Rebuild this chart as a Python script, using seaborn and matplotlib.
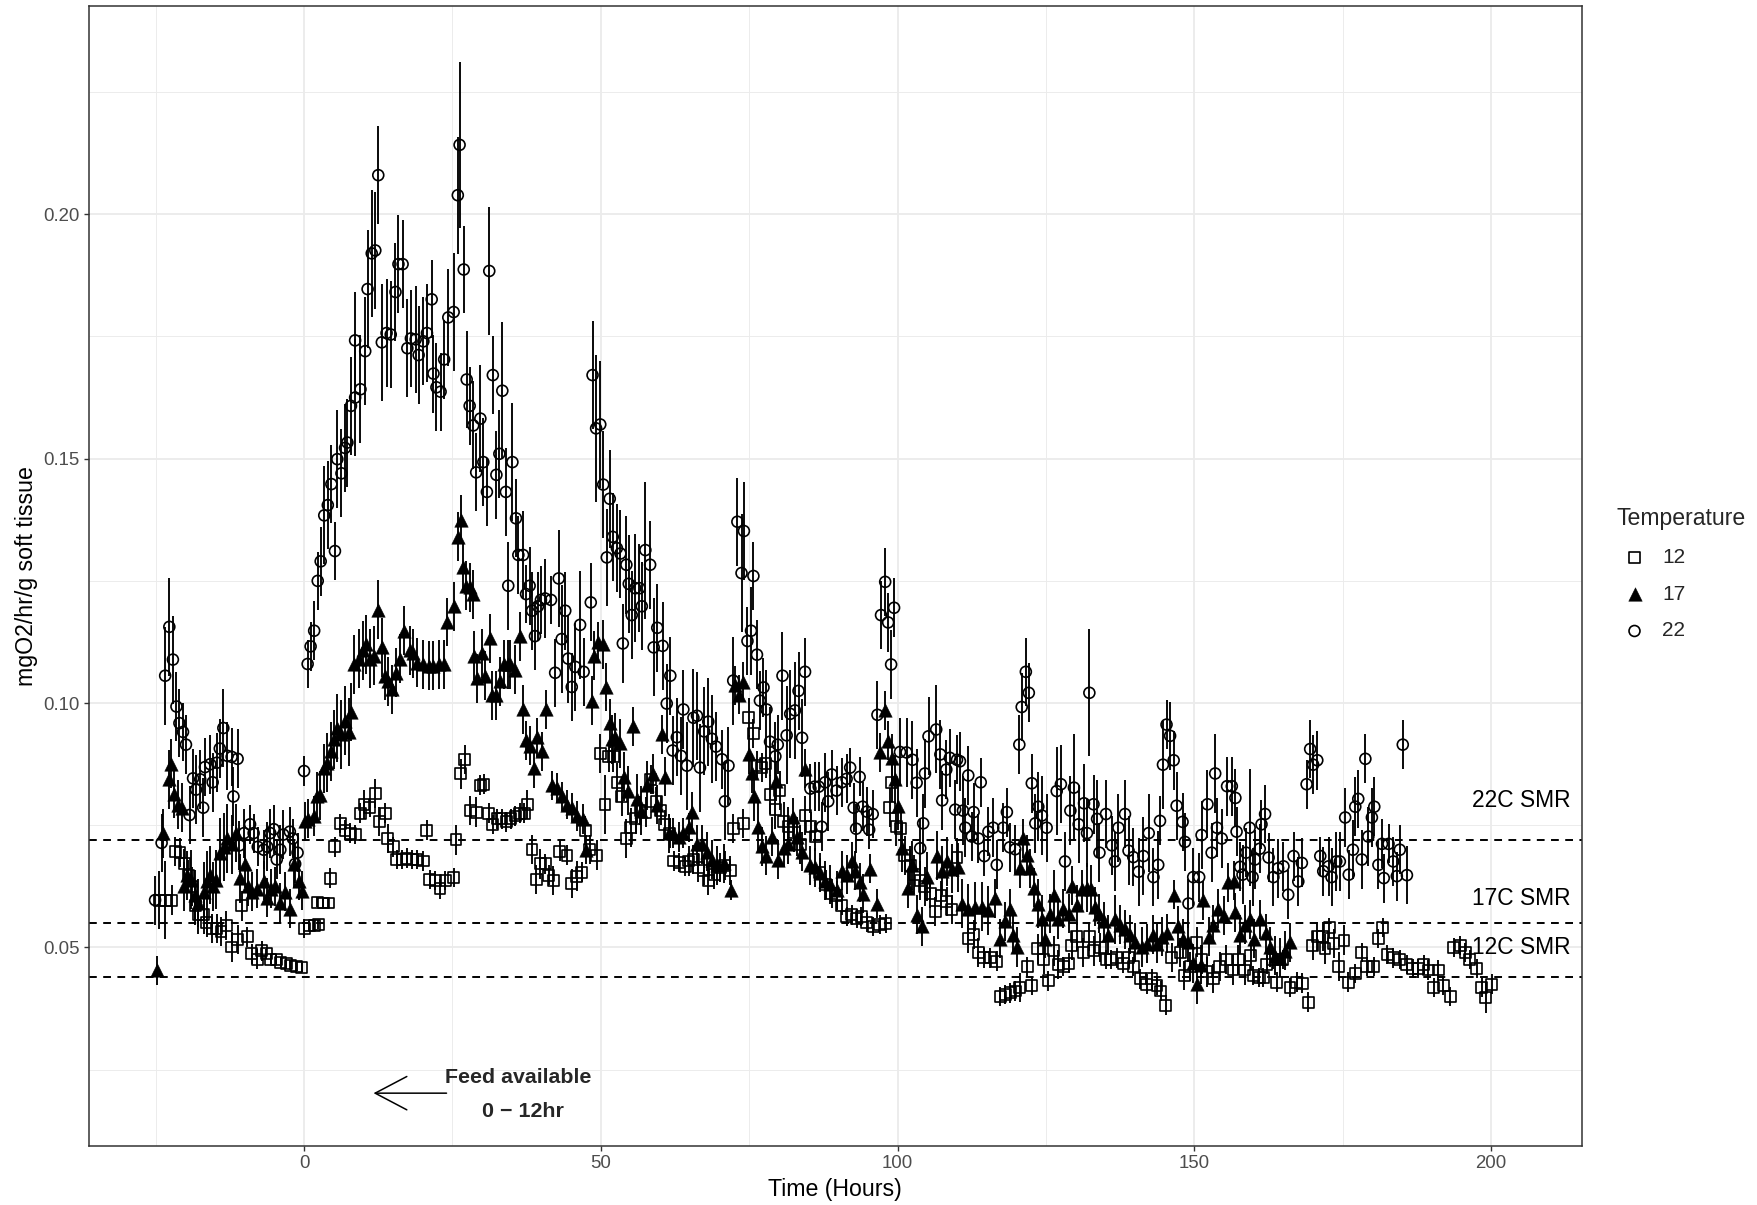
import matplotlib
matplotlib.use("Agg")
import matplotlib.pyplot as plt
import numpy as np
import pandas as pd
import seaborn as sns
from matplotlib.ticker import FixedLocator

# ---------------- data ----------------
# 12 C  (open squares)
hours_12 = [-24.4,-23.4,-22.3,-21.7,-20.9,-20.2,-19.5,-18.9,-18.3,-17.8,
            -16.9,-16.4,-15.5,-14.7,-14.0,-13.1,-12.2,-11.2,-10.5,-9.6,
            -8.8,-7.9,-7.1,-6.4,-5.6,-4.7,-3.9,-3.0,-2.3,-1.2,
            -0.4,0.0,0.9,1.7,2.4,2.2,3.2,4.1,4.4,5.2,
            6.1,6.9,7.8,8.6,9.5,10.1,11.1,12.0,12.7,13.7,
            14.1,15.0,15.6,16.5,17.3,18.2,19.0,20.1,20.7,21.2,
            22.1,22.9,23.8,25.2,25.6,26.4,27.1,28.0,29.0,29.7,
            30.3,31.1,31.8,32.5,33.3,34.1,34.8,35.6,36.3,37.1,
            37.6,38.4,39.1,39.8,40.6,41.2,42.0,43.1,44.3,45.1,
            45.9,46.8,47.4,48.1,49.3,49.9,50.7,51.3,52.1,52.8,
            53.5,54.3,55.0,55.9,56.6,57.6,58.4,59.3,60.1,60.8,
            61.6,62.3,63.2,64.2,64.8,65.6,66.4,67.3,68.1,69.1,
            70.1,70.9,71.8,72.3,74.0,74.9,75.7,76.3,77.1,77.8,
            78.5,79.4,80.1,80.8,81.6,82.6,83.6,84.4,85.4,86.1,
            86.9,87.9,88.9,89.7,90.6,91.4,92.3,93.1,93.9,94.8,
            95.9,97.0,98.0,98.7,99.0,99.8,100.5,101.2,102.1,102.8,
            103.8,104.6,105.5,106.3,107.3,108.3,109.1,110.0,111.9,112.8,
            113.6,114.5,115.6,116.7,117.3,118.1,119.0,119.8,120.6,121.8,
            122.6,123.6,124.6,125.4,126.3,127.1,127.9,128.8,129.3,130.2,
            131.3,132.3,133.0,134.1,135.1,135.9,136.9,138.0,138.9,139.7,
            140.9,142.0,142.8,143.7,144.3,145.2,146.2,147.6,148.3,149.3,
            150.4,151.2,152.1,153.2,154.3,155.4,156.5,157.4,158.5,159.5,
            159.9,160.9,161.6,162.2,163.2,163.9,164.9,166.1,167.2,168.2,
            169.2,169.9,170.7,171.6,172.0,172.7,173.5,174.3,175.2,175.9,
            177.1,178.2,179.0,180.2,181.0,181.7,182.5,183.5,184.6,185.8,
            186.8,187.7,188.6,189.4,190.3,191.1,191.9,193.1,193.7,194.8,
            195.6,196.4,197.6,198.4,199.1,200.1]
rate_12 = [0.0597,0.0597,0.0597,0.0697,0.0694,0.0671,0.0648,0.0625,0.0585,0.0568,
           0.0568,0.0551,0.0539,0.0539,0.0533,0.0545,0.0501,0.0516,0.0585,0.0522,
           0.0487,0.0476,0.0493,0.0487,0.0476,0.0476,0.0470,0.0467,0.0464,0.0462,
           0.0459,0.0539,0.0545,0.0545,0.0547,0.0593,0.0591,0.0591,0.0642,0.0706,
           0.0754,0.0740,0.0734,0.0731,0.0775,0.0792,0.0786,0.0815,0.0758,0.0775,
           0.0723,0.0706,0.0680,0.0680,0.0683,0.0680,0.0680,0.0677,0.0740,0.0639,
           0.0637,0.0620,0.0637,0.0643,0.0720,0.0855,0.0884,0.0780,0.0777,0.0832,
           0.0834,0.0775,0.0752,0.0763,0.0763,0.0757,0.0763,0.0769,0.0775,0.0775,
           0.0792,0.0700,0.0639,0.0671,0.0671,0.0648,0.0637,0.0697,0.0689,0.0631,
           0.0646,0.0654,0.0740,0.0700,0.0689,0.0896,0.0792,0.0890,0.0890,0.0838,
           0.0809,0.0723,0.0746,0.0763,0.0780,0.0777,0.0844,0.0798,0.0780,0.0752,
           0.0734,0.0677,0.0674,0.0666,0.0677,0.0680,0.0664,0.0657,0.0637,0.0649,
           0.0664,0.0668,0.0658,0.0743,0.0754,0.0970,0.0938,0.0872,0.0868,0.0876,
           0.0813,0.0782,0.0821,0.0758,0.0747,0.0735,0.0711,0.0770,0.0747,0.0727,
           0.0653,0.0629,0.0610,0.0606,0.0586,0.0563,0.0567,0.0559,0.0563,0.0551,
           0.0543,0.0547,0.0549,0.0786,0.0837,0.0747,0.0743,0.0688,0.0668,0.0649,
           0.0637,0.0625,0.0610,0.0574,0.0606,0.0594,0.0578,0.0684,0.0518,0.0526,
           0.0490,0.0479,0.0479,0.0472,0.0400,0.0404,0.0407,0.0411,0.0418,0.0461,
           0.0422,0.0497,0.0475,0.0432,0.0493,0.0465,0.0461,0.0468,0.0504,0.0522,
           0.0490,0.0522,0.0493,0.0500,0.0475,0.0475,0.0479,0.0468,0.0479,0.0461,
           0.0436,0.0425,0.0436,0.0422,0.0411,0.0382,0.0479,0.0490,0.0443,0.0461,
           0.0511,0.0475,0.0450,0.0436,0.0461,0.0475,0.0454,0.0475,0.0454,0.0483,
           0.0443,0.0439,0.0439,0.0465,0.0475,0.0429,0.0475,0.0418,0.0429,0.0427,
           0.0388,0.0504,0.0522,0.0522,0.0497,0.0540,0.0508,0.0461,0.0515,0.0429,
           0.0447,0.0490,0.0461,0.0461,0.0518,0.0541,0.0486,0.0479,0.0475,0.0465,
           0.0457,0.0457,0.0465,0.0454,0.0418,0.0454,0.0422,0.0400,0.0500,0.0504,
           0.0490,0.0475,0.0457,0.0418,0.0397,0.0425]
# standard error, in units of 0.001 mgO2/hr/g
err_12 = [6,8,3,3,3,3,3,4,4,4,
          4,3,3,3,3,3,3,3,3,2,
          2,2,2,1,1,1,1,1,1,1,
          1,2,1,1,1,1,1,1,2,2,
          2,2,2,2,2,3,2,3,3,2,
          3,2,2,2,2,2,2,2,2,2,
          2,2,2,2,3,3,3,3,3,2,
          2,2,2,2,2,2,2,2,2,2,
          3,3,3,3,2,2,3,2,2,3,
          3,2,3,3,3,4,6,3,3,4,
          4,4,4,3,3,3,3,3,3,3,
          3,2,2,2,3,3,3,3,3,3,
          3,3,3,3,3,4,3,3,3,3,
          4,4,4,4,4,4,4,4,3,3,
          3,3,3,3,2,2,2,2,2,2,
          2,2,2,4,4,4,4,4,4,4,
          4,4,3,3,3,3,3,4,3,3,
          3,2,2,2,2,2,2,2,3,2,
          2,3,3,2,3,3,2,2,3,3,
          3,3,3,3,2,2,2,2,2,2,
          2,2,2,2,2,2,3,3,3,3,
          3,3,3,3,3,3,3,3,3,3,
          2,2,2,2,2,2,2,2,2,2,
          2,3,3,3,3,2,3,3,3,2,
          2,2,2,2,2,2,2,2,2,2,
          2,2,2,2,2,2,2,2,2,2,
          2,2,2,2,3,2]

# 17 C  (filled triangles)
hours_17 = [-24.8,-23.7,-22.8,-22.4,-21.9,-21.3,-20.6,-20.3,-19.7,-19.1,
            -18.3,-17.8,-16.9,-16.3,-15.9,-15.3,-14.8,-14.1,-13.5,-12.9,
            -12.2,-11.5,-10.8,-10.0,-9.5,-8.8,-8.0,-6.8,-6.3,-5.6,
            -4.9,-4.0,-3.2,-2.3,-1.7,-0.9,-0.4,0.2,0.7,1.6,
            2.2,2.7,3.3,3.8,4.5,5.0,5.5,6.2,6.9,7.5,
            7.9,8.4,9.2,10.0,10.5,11.1,11.8,12.5,13.1,13.7,
            14.2,14.8,15.5,16.1,16.9,17.8,18.4,19.0,20.1,21.0,
            21.8,22.7,23.5,24.0,25.2,25.9,26.4,26.7,27.3,27.9,
            28.5,28.7,29.2,29.9,30.5,31.4,31.6,32.4,33.0,33.6,
            34.3,34.7,35.6,36.3,36.9,37.4,38.0,38.7,39.3,40.1,
            40.8,41.7,42.6,43.4,44.3,45.1,45.9,47.0,47.5,48.5,
            48.8,49.6,50.3,50.9,51.5,51.9,52.4,53.2,53.9,54.5,
            55.4,56.1,56.7,57.7,58.8,59.5,60.3,60.8,61.4,62.2,
            63.1,63.9,64.8,65.3,66.2,67.0,67.8,68.7,69.5,70.7,
            71.9,72.6,73.2,74.0,74.9,75.4,75.8,76.5,77.1,77.9,
            78.8,79.5,79.9,80.8,81.6,82.4,83.0,83.9,84.4,85.2,
            86.1,86.9,87.8,88.6,89.7,90.6,91.4,92.3,92.8,93.7,
            94.2,95.4,96.5,97.0,97.9,98.4,99.0,99.6,100.1,100.7,
            101.8,102.5,103.2,104.1,105.0,106.6,107.4,108.3,109.1,110.2,
            110.8,111.9,113.1,114.2,115.3,116.4,117.3,118.1,119.0,119.5,
            120.1,120.6,121.2,121.8,122.3,123.0,123.6,124.3,124.8,125.6,
            126.3,127.1,127.9,128.8,129.3,130.3,131.0,131.9,132.5,133.3,
            134.0,134.7,135.5,136.6,137.5,138.3,139.2,140.0,141.1,142.0,
            143.0,143.7,144.5,145.3,146.5,147.3,148.0,149.0,149.8,150.5,
            151.1,151.4,152.4,153.2,154.0,154.9,155.7,156.6,156.9,157.7,
            158.5,159.4,160.1,161.1,162.1,162.8,163.6,164.4,165.3,166.1]
rate_17 = [0.0453,0.0734,0.0844,0.0876,0.0815,0.0792,0.0786,0.0625,0.0648,0.0639,
           0.0608,0.0591,0.0614,0.0637,0.0648,0.0625,0.0639,0.0694,0.0706,0.0723,
           0.0711,0.0734,0.0642,0.0671,0.0625,0.0614,0.0620,0.0637,0.0602,0.0620,
           0.0625,0.0591,0.0614,0.0579,0.0671,0.0637,0.0616,0.0758,0.0763,0.0769,
           0.0809,0.0811,0.0867,0.0878,0.0901,0.0926,0.0949,0.0936,0.0964,0.0941,
           0.0982,0.1079,0.1091,0.1108,0.1120,0.1091,0.1097,0.1191,0.1114,0.1056,
           0.1045,0.1028,0.1062,0.1091,0.1148,0.1108,0.1102,0.1083,0.1079,0.1076,
           0.1076,0.1079,0.1079,0.1166,0.1198,0.1340,0.1375,0.1279,0.1240,0.1237,
           0.1223,0.1097,0.1051,0.1102,0.1056,0.1133,0.1016,0.1016,0.1045,0.1079,
           0.1079,0.1079,0.1068,0.1137,0.0987,0.0924,0.0913,0.0867,0.0930,0.0901,
           0.0987,0.0832,0.0826,0.0809,0.0792,0.0786,0.0769,0.0763,0.0700,0.1005,
           0.1097,0.1125,0.1120,0.1033,0.0959,0.0926,0.0930,0.0918,0.0849,0.0821,
           0.0953,0.0804,0.0780,0.0832,0.0855,0.0792,0.0936,0.0849,0.0734,0.0734,
           0.0726,0.0734,0.0746,0.0778,0.0711,0.0711,0.0696,0.0680,0.0668,0.0672,
           0.0618,0.1036,0.1017,0.1044,0.0895,0.0856,0.0809,0.0747,0.0707,0.0688,
           0.0727,0.0840,0.0680,0.0704,0.0711,0.0766,0.0727,0.0696,0.0866,0.0668,
           0.0664,0.0653,0.0637,0.0629,0.0617,0.0657,0.0649,0.0676,0.0657,0.0633,
           0.0610,0.0661,0.0590,0.0899,0.0985,0.0923,0.0887,0.0844,0.0790,0.0704,
           0.0621,0.0668,0.0567,0.0543,0.0645,0.0688,0.0657,0.0676,0.0661,0.0664,
           0.0590,0.0579,0.0583,0.0583,0.0576,0.0601,0.0518,0.0554,0.0579,0.0526,
           0.0501,0.0662,0.0723,0.0690,0.0662,0.0622,0.0590,0.0558,0.0518,0.0569,
           0.0608,0.0558,0.0579,0.0569,0.0626,0.0587,0.0619,0.0622,0.0619,0.0583,
           0.0569,0.0554,0.0526,0.0558,0.0547,0.0537,0.0526,0.0511,0.0501,0.0508,
           0.0526,0.0508,0.0522,0.0529,0.0608,0.0544,0.0518,0.0511,0.0468,0.0425,
           0.0465,0.0597,0.0522,0.0547,0.0579,0.0565,0.0633,0.0637,0.0572,0.0526,
           0.0547,0.0558,0.0518,0.0558,0.0529,0.0501,0.0483,0.0479,0.0493,0.0511]
err_17 = [3,5,6,5,5,5,5,5,5,6,
          5,5,6,6,6,5,6,7,7,7,
          6,6,5,5,4,4,4,4,4,4,
          4,4,4,4,5,4,4,4,4,4,
          5,5,5,6,6,6,7,7,7,7,
          6,6,6,6,6,6,6,6,6,5,
          5,5,5,5,5,5,5,5,5,5,
          5,5,5,5,5,5,5,5,5,5,
          5,5,5,5,5,5,5,5,5,5,
          5,5,5,5,5,4,4,4,4,4,
          4,3,3,3,3,3,3,3,3,5,
          5,4,5,5,5,5,5,5,5,5,
          4,5,5,5,4,4,4,4,4,3,
          3,3,3,4,4,4,4,4,4,4,
          2,4,4,4,4,4,5,5,4,4,
          4,4,4,4,4,4,4,4,4,4,
          4,4,4,4,4,4,4,4,4,4,
          4,3,3,4,4,4,5,5,5,5,
          4,5,4,4,5,5,5,5,5,5,
          5,5,5,5,5,4,4,4,4,4,
          4,4,4,4,4,4,5,5,4,4,
          5,4,4,4,4,4,4,5,5,4,
          4,4,4,5,4,4,4,4,4,4,
          4,4,4,4,3,4,4,4,4,4,
          4,4,4,4,4,4,4,4,4,4,
          4,4,4,4,4,4,4,4,4,4]

# 22 C  (open circles)
hours_22 = [-25.1,-24.0,-23.4,-22.7,-22.1,-21.5,-21.0,-20.4,-19.9,-19.3,
            -18.7,-18.2,-17.5,-17.0,-16.7,-15.8,-15.4,-14.7,-14.2,-13.6,
            -12.9,-12.2,-11.9,-11.2,-10.9,-10.1,-9.1,-8.5,-7.8,-6.8,
            -6.2,-5.7,-5.1,-4.6,-4.0,-3.5,-2.4,-1.9,-1.5,-1.1,
            0.0,0.6,1.1,1.7,2.3,2.8,3.4,4.0,4.6,5.2,
            5.6,6.3,6.9,7.3,7.9,8.6,8.6,9.5,10.3,10.7,
            11.4,12.0,12.5,13.1,13.9,14.6,15.4,15.9,16.6,17.4,
            18.0,18.8,19.3,20.1,20.7,21.5,21.8,22.3,23.0,23.6,
            24.3,25.2,25.9,26.2,26.9,27.4,27.9,28.5,29.0,29.7,
            30.2,30.8,31.2,31.8,32.4,32.9,33.4,34.0,34.4,35.1,
            35.7,36.1,36.9,37.4,38.0,38.4,38.9,39.4,39.9,40.6,
            41.6,42.3,42.9,43.4,44.0,44.5,45.1,45.7,46.5,47.1,
            48.3,48.6,49.2,49.9,50.4,51.0,51.5,52.0,52.7,53.3,
            53.7,54.3,54.7,55.2,55.8,56.5,56.9,57.5,58.3,58.9,
            59.5,60.4,61.1,61.7,62.1,62.8,63.5,63.9,64.5,65.6,
            66.2,66.7,67.4,68.1,68.7,69.4,70.4,70.9,71.5,72.3,
            73.0,73.7,74.1,74.7,75.3,75.7,76.3,76.8,77.4,77.9,
            78.5,79.4,79.8,80.6,81.3,81.9,82.7,83.3,83.9,84.4,
            85.3,86.0,86.7,87.2,87.8,88.3,88.9,89.7,90.6,91.4,
            92.0,92.6,93.0,93.6,94.1,94.8,95.2,95.8,96.6,97.2,
            97.9,98.4,98.9,99.4,100.4,101.5,102.5,103.2,103.8,104.3,
            104.6,105.2,106.5,107.2,107.5,108.2,108.8,109.7,110.0,110.5,
            111.0,111.4,111.9,112.5,112.8,113.6,114.0,114.6,115.3,116.1,
            116.7,117.8,118.4,118.9,119.8,120.5,120.9,121.6,122.1,122.6,
            123.2,123.7,124.3,125.1,126.8,127.5,128.2,129.1,129.7,130.5,
            131.4,131.9,132.3,133.0,133.6,134.0,135.1,136.1,136.6,137.2,
            138.3,138.9,139.7,140.6,141.4,142.3,143.1,143.9,144.2,144.7,
            145.3,145.9,146.5,147.0,148.0,148.4,149.0,149.8,150.8,151.2,
            152.2,152.9,153.5,153.8,154.6,155.5,156.3,156.9,157.1,157.7,
            158.1,158.7,159.3,159.8,160.2,161.0,161.3,161.9,162.5,163.3,
            164.1,165.0,165.8,166.7,167.5,168.1,168.9,169.5,170.0,170.7,
            171.2,171.7,172.6,173.1,173.9,174.5,175.4,176.0,176.7,177.1,
            177.6,178.2,178.8,179.3,179.9,180.3,181.0,181.6,181.9,182.7,
            183.5,184.1,184.6,185.1,185.8]
rate_22 = [0.0597,0.0714,0.1056,0.1156,0.1089,0.0993,0.0959,0.0941,0.0915,0.0771,
           0.0846,0.0823,0.0844,0.0786,0.0869,0.0875,0.0838,0.0878,0.0907,0.0949,
           0.0892,0.0890,0.0809,0.0886,0.0709,0.0734,0.0752,0.0734,0.0706,0.0700,
           0.0706,0.0734,0.0742,0.0680,0.0700,0.0731,0.0737,0.0723,0.0671,0.0694,
           0.0861,0.1080,0.1116,0.1148,0.1250,0.1290,0.1384,0.1405,0.1448,0.1311,
           0.1499,0.1470,0.1522,0.1533,0.1608,0.1625,0.1742,0.1642,0.1720,0.1847,
           0.1920,0.1926,0.2080,0.1738,0.1757,0.1754,0.1841,0.1898,0.1898,0.1726,
           0.1746,0.1744,0.1712,0.1740,0.1757,0.1826,0.1674,0.1646,0.1637,0.1703,
           0.1789,0.1800,0.2039,0.2142,0.1887,0.1662,0.1608,0.1568,0.1472,0.1582,
           0.1493,0.1432,0.1884,0.1671,0.1467,0.1510,0.1639,0.1432,0.1240,0.1493,
           0.1378,0.1303,0.1303,0.1223,0.1240,0.1189,0.1137,0.1198,0.1211,0.1214,
           0.1211,0.1062,0.1255,0.1131,0.1189,0.1091,0.1033,0.1074,0.1160,0.1064,
           0.1206,0.1671,0.1562,0.1570,0.1447,0.1298,0.1418,0.1340,0.1317,0.1306,
           0.1122,0.1283,0.1244,0.1180,0.1235,0.1235,0.1198,0.1313,0.1283,0.1114,
           0.1154,0.1117,0.0999,0.1056,0.0903,0.0930,0.0892,0.0987,0.0872,0.0970,
           0.0974,0.0868,0.0942,0.0962,0.0927,0.0911,0.0885,0.0799,0.0872,0.1046,
           0.1371,0.1266,0.1352,0.1127,0.1148,0.1260,0.1099,0.1005,0.1032,0.0987,
           0.0921,0.0891,0.0915,0.1056,0.0934,0.0978,0.0985,0.1025,0.0929,0.1064,
           0.0825,0.0829,0.0829,0.0747,0.0838,0.0799,0.0854,0.0821,0.0838,0.0845,
           0.0868,0.0786,0.0743,0.0849,0.0788,0.0778,0.0741,0.0773,0.0976,0.1180,
           0.1248,0.1165,0.1079,0.1195,0.0900,0.0899,0.0884,0.0837,0.0703,0.0754,
           0.0856,0.0932,0.0946,0.0895,0.0801,0.0864,0.0888,0.0782,0.0884,0.0881,
           0.0780,0.0745,0.0852,0.0727,0.0777,0.0723,0.0838,0.0687,0.0737,0.0745,
           0.0669,0.0745,0.0777,0.0705,0.0701,0.0915,0.0992,0.1064,0.1021,0.0836,
           0.0754,0.0788,0.0770,0.0745,0.0820,0.0834,0.0676,0.0780,0.0827,0.0752,
           0.0795,0.0734,0.1021,0.0793,0.0763,0.0694,0.0773,0.0709,0.0676,0.0745,
           0.0773,0.0698,0.0685,0.0655,0.0687,0.0734,0.0644,0.0669,0.0759,0.0874,
           0.0956,0.0933,0.0883,0.0790,0.0757,0.0716,0.0590,0.0644,0.0644,0.0730,
           0.0793,0.0694,0.0856,0.0745,0.0723,0.0830,0.0830,0.0806,0.0737,0.0665,
           0.0649,0.0694,0.0745,0.0644,0.0680,0.0702,0.0752,0.0773,0.0684,0.0644,
           0.0662,0.0666,0.0608,0.0687,0.0635,0.0673,0.0834,0.0906,0.0874,0.0883,
           0.0687,0.0656,0.0666,0.0644,0.0676,0.0676,0.0766,0.0649,0.0700,0.0788,
           0.0804,0.0680,0.0886,0.0727,0.0766,0.0788,0.0669,0.0712,0.0642,0.0712,
           0.0676,0.0646,0.0700,0.0915,0.0648]
err_22 = [5,6,10,10,9,7,7,6,6,6,
          6,7,6,6,6,6,6,6,6,8,
          7,6,6,6,5,5,4,4,4,4,
          5,5,5,4,5,5,5,4,4,4,
          3,5,5,6,6,7,10,9,8,6,
          10,9,9,9,10,12,10,11,11,12,
          13,12,10,12,11,11,10,10,9,10,
          10,11,10,9,10,8,8,9,8,8,
          10,12,12,17,9,10,8,9,8,11,
          9,7,13,8,9,9,14,9,9,12,
          8,8,9,6,8,8,7,7,7,8,
          5,7,10,11,8,9,7,9,11,7,
          8,11,15,13,11,10,10,9,9,9,
          8,10,10,9,11,9,9,14,9,10,
          9,9,8,8,7,8,8,8,9,10,
          9,9,9,9,9,7,6,8,8,9,
          9,12,10,7,9,7,7,6,6,8,
          7,7,6,9,10,9,10,8,8,7,
          5,5,5,5,6,6,5,5,5,5,
          4,5,5,4,5,5,4,5,7,7,
          7,6,7,6,7,7,8,7,6,6,
          7,8,9,7,6,6,6,6,5,6,
          7,6,6,5,6,5,5,4,5,6,
          5,5,5,5,5,6,7,7,6,6,
          6,7,8,7,9,8,6,7,11,8,
          8,7,13,6,8,6,7,6,6,7,
          7,7,6,7,8,8,6,7,5,9,
          5,7,6,7,6,6,5,6,5,7,
          7,6,8,6,6,6,6,6,5,5,
          6,5,12,6,6,5,5,6,5,6,
          6,5,5,5,5,5,5,6,6,6,
          4,5,6,6,6,6,6,5,6,6,
          6,6,5,6,6,6,5,5,5,4,
          5,5,5,5,6]

temperatures = ["12", "17", "22"]
smr_levels = [0.044, 0.055, 0.072]
smr_labels = ["12C SMR", "17C SMR", "22C SMR"]

# ---------------- figure ----------------
sns.set_theme(style="white")
plt.rcParams["font.family"] = ["Liberation Sans", "DejaVu Sans"]

fig = plt.figure(figsize=(17.58, 12.05), dpi=100)
ax = fig.add_axes([0.0504, 0.049, 0.8495, 0.9464])

frames = {
    "12": pd.DataFrame({"hours": hours_12, "rate": rate_12, "se": np.array(err_12) / 1000}),
    "17": pd.DataFrame({"hours": hours_17, "rate": rate_17, "se": np.array(err_17) / 1000}),
    "22": pd.DataFrame({"hours": hours_22, "rate": rate_22, "se": np.array(err_22) / 1000}),
}

# error bars
for t in temperatures:
    d = frames[t]
    ax.errorbar(d["hours"], d["rate"], yerr=d["se"], fmt="none",
                ecolor="black", elinewidth=1.35, capsize=0, zorder=2)

# points
sns.scatterplot(data=frames["12"], x="hours", y="rate", marker="s", s=62,
                facecolor="none", edgecolor="black", linewidth=1.2,
                label="12", ax=ax, zorder=3)
sns.scatterplot(data=frames["17"], x="hours", y="rate", marker="^", s=95,
                color="black", edgecolor="black", linewidth=0.3,
                label="17", ax=ax, zorder=3)
sns.scatterplot(data=frames["22"], x="hours", y="rate", marker="o", s=62,
                facecolor="none", edgecolor="black", linewidth=1.2,
                label="22", ax=ax, zorder=3)

# SMR reference lines
for lvl in smr_levels:
    ax.axhline(lvl, color="black", lw=1.4, ls=(0, (4, 3.3)), zorder=1.5)

ax.text(205, 0.080, smr_labels[2], ha="center", va="center", fontsize=16.4, color="black")
ax.text(205, 0.060, smr_labels[1], ha="center", va="center", fontsize=16.4, color="black")
ax.text(205, 0.050, smr_labels[0], ha="center", va="center", fontsize=16.4, color="black")

# feed annotation
ax.annotate("", xy=(11.7, 0.0202), xytext=(24.0, 0.0202),
            arrowprops=dict(arrowstyle="->,head_length=1.9,head_width=1.0",
                            lw=1.1, color="black", shrinkA=0, shrinkB=0))
ax.text(36.0, 0.0234, "Feed available", ha="center", va="center", fontsize=15.4, fontweight="bold")
ax.text(36.8, 0.0165, "0 \u2212 12hr", ha="center", va="center", fontsize=15.4, fontweight="bold")

# axes styling (ggplot theme_bw look)
ax.set_xlim(-36.3, 215.3)
ax.set_ylim(0.0094, 0.2427)
ax.xaxis.set_major_locator(FixedLocator([0, 50, 100, 150, 200]))
ax.xaxis.set_minor_locator(FixedLocator([-25, 25, 75, 125, 175]))
ax.yaxis.set_major_locator(FixedLocator([0.05, 0.10, 0.15, 0.20]))
ax.yaxis.set_minor_locator(FixedLocator([0.025, 0.075, 0.125, 0.175, 0.225]))
ax.set_yticklabels(["0.05", "0.10", "0.15", "0.20"])
ax.grid(which="major", color="#EBEBEB", lw=1.3, zorder=0)
ax.grid(which="minor", color="#EBEBEB", lw=0.65, zorder=0)
ax.set_axisbelow(True)
for sp in ax.spines.values():
    sp.set_color("#333333")
    sp.set_linewidth(1.1)
ax.tick_params(which="major", length=3.5, width=1.0, color="#333333",
               labelcolor="#4D4D4D", labelsize=13.4, pad=3, left=True, bottom=True)
ax.tick_params(which="minor", length=0)
ax.set_xlabel("Time (Hours)", fontsize=16.7, color="black", labelpad=4)
ax.set_ylabel("mgO2/hr/g soft tissue", fontsize=16.7, color="black", labelpad=4)

# legend
h, l = ax.get_legend_handles_labels()
ax.get_legend().remove()
leg = fig.legend(h, l, title="Temperature", loc="upper left",
                 bbox_to_anchor=(0.9195, 0.5795), frameon=False,
                 fontsize=15, title_fontsize=16.6, handlelength=1.73,
                 handletextpad=0.45, labelspacing=0.86, borderpad=0,
                 borderaxespad=0, alignment="left")

fig.savefig("out.png", dpi=100)
